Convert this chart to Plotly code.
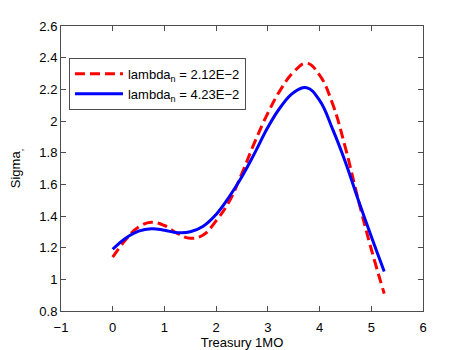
import plotly.graph_objects as go

x_vals = [0.00, 0.25, 0.50, 0.75, 1.00, 1.25, 1.50, 1.75, 2.00, 2.25, 2.50,
          2.75, 3.00, 3.25, 3.50, 3.75, 4.00, 4.25, 4.50, 4.75, 5.00, 5.25]
sigma_small = [1.14, 1.25, 1.33, 1.36, 1.34, 1.29, 1.26, 1.28, 1.37, 1.49, 1.67,
               1.87, 2.05, 2.20, 2.31, 2.365, 2.29, 2.11, 1.83, 1.50, 1.19, 0.91]
sigma_large = [1.19, 1.26, 1.305, 1.32, 1.31, 1.295, 1.30, 1.335, 1.41, 1.52, 1.65,
               1.80, 1.96, 2.09, 2.18, 2.21, 2.13, 1.95, 1.74, 1.50, 1.27, 1.05]
labels = ["lambda<sub>n</sub> = 2.12E\u22122", "lambda<sub>n</sub> = 4.23E\u22122"]
x_ticks = [-1, 0, 1, 2, 3, 4, 5, 6]
y_ticks = [0.8, 1, 1.2, 1.4, 1.6, 1.8, 2, 2.2, 2.4, 2.6]

fig = go.Figure()
fig.add_trace(go.Scatter(
    x=x_vals, y=sigma_small, mode="lines", name=labels[0],
    line=dict(color="#ff0000", width=3, dash="10px,5px", shape="spline", smoothing=1.2),
))
fig.add_trace(go.Scatter(
    x=x_vals, y=sigma_large, mode="lines", name=labels[1],
    line=dict(color="#0000ff", width=3, shape="spline", smoothing=1.2),
))

axis_style = dict(
    showgrid=False, zeroline=False, showline=True, linecolor="#4d4d4d",
    linewidth=1, mirror="ticks", ticks="inside", ticklen=5, automargin=False,
    tickcolor="#4d4d4d", tickfont=dict(size=13, color="#000000"),
)

# page body adds an 8px offset, so margins are shifted to compensate
fig.update_layout(
    width=467, height=350,
    margin=dict(l=53, r=52, t=18, b=47),
    plot_bgcolor="white", paper_bgcolor="white",
    font=dict(family="Liberation Sans, Arial, sans-serif", size=13, color="#000000"),
    xaxis=dict(range=[-1, 6], tickvals=x_ticks,
               ticktext=[str(v).replace("-", "\u2212") for v in x_ticks],
               ticklabelstandoff=4,
               title=dict(text="Treasury 1MO", standoff=2, font=dict(size=13)), **axis_style),
    yaxis=dict(range=[0.8, 2.6], tickvals=y_ticks, ticktext=[f"{v:g}" for v in y_ticks],
               title=dict(text="Sigma<sub>,</sub>", standoff=21, font=dict(size=13)), **axis_style),
    legend=dict(x=0.022, y=0.888, xanchor="left", yanchor="top",
                bordercolor="#4d4d4d", borderwidth=1, bgcolor="white",
                font=dict(size=13), itemwidth=48),
    showlegend=True,
)

fig.write_html("out.html")
